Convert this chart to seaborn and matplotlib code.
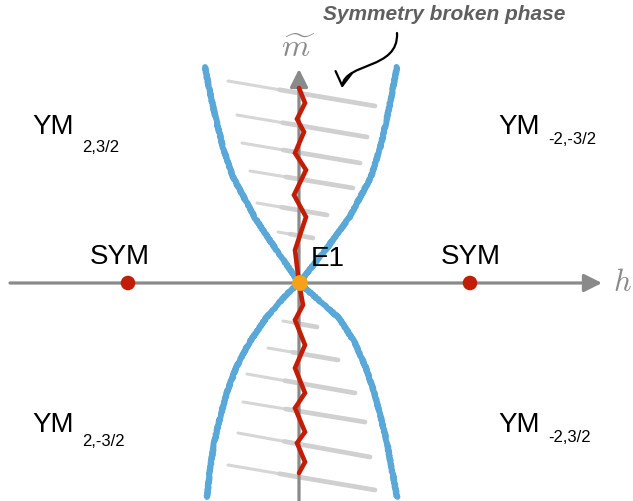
import matplotlib
matplotlib.use("Agg")
import matplotlib.pyplot as plt
from matplotlib.path import Path
from matplotlib.patches import FancyArrowPatch
import pandas as pd
import seaborn as sns

sns.set_theme(style="white")
plt.rcParams["font.family"] = ["Liberation Sans", "DejaVu Sans"]
plt.rcParams["mathtext.fontset"] = "cm"
plt.rcParams["text.color"] = "black"

# phase boundary, upper branch (m > 0): h values on left / right side
upper_m = [0, 15, 35, 65, 106, 135, 160, 185, 216]
upper_left_h = [0, -10, -24, -44, -66, -76, -82, -88, -94]
upper_right_h = [0, 12, 28, 50, 72, 81, 87, 92, 98]

# lower branch (m < 0)
lower_m = [0, -12, -35, -60, -85, -109, -135, -160, -187, -214]
lower_left_h = [0, -13, -33, -50, -63, -72, -79, -85, -89, -92]
lower_right_h = [0, 14, 40, 56, 67, 75, 82, 88, 93, 98]

# first order line along the m axis (zigzag)
zig_m = [195, 180, 164, 151, 130, 113, 88, 66, 33, 0,
         -22, -37, -62, -85, -110, -125, -149, -160, -179, -190]
zig_h = [0, 6, -2, 5, -4, 7, -5, 7, -4, 0,
         4, -4, 6, -4, 6, -4, 6, -2, 6, 0]

# hatching of the symmetry broken phase (start / end of each stroke)
hatch_h0 = [-71, -62, -57, -49, -42, -21, -16, -31, -52, -56, -61, -71]
hatch_m0 = [202, 168, 140, 112, 80, 51, -38, -65, -91, -119, -150, -182]
hatch_h1 = [76, 68, 61, 54, 28, 14, 18, 39, 56, 66, 71, 76]
hatch_m1 = [177, 146, 120, 95, 68, 45, -44, -77, -110, -139, -174, -207]

# special points
sym_h = [-171, 171]
sym_m = [0, 0]
e1_h = [1]
e1_m = [0]

# region labels
region_names = ["YM", "YM", "YM", "YM"]
region_subs = ["2,3/2", "-2,-3/2", "2,-3/2", "-2,3/2"]
region_h = [-267, 199, -267, 199]
region_m = [156, 156, -142, -142]
sub_m = [136, 144, -159, -155]

blue = "#5aa8d7"
grey = "#8a8a8a"
red = "#c21d06"
orange = "#f7a11a"

fig = plt.figure(figsize=(6.33, 5.01), dpi=100)
ax = fig.add_axes([0, 0, 1, 1])
ax.set_xlim(-299, 334)
ax.set_ylim(-218, 283)
ax.axis("off")

# hatch strokes: thin full stroke plus a wider right part for a tapered look
strokes = pd.DataFrame({
    "stroke": list(range(len(hatch_h0))) * 2,
    "h": hatch_h0 + hatch_h1,
    "m": hatch_m0 + hatch_m1,
})
sns.lineplot(data=strokes, x="h", y="m", units="stroke", estimator=None,
             sort=False, color="#d6d6d6", lw=2.2, solid_capstyle="round",
             ax=ax, zorder=1, legend=False)
mid = strokes.copy()
n = len(hatch_h0)
mid.loc[:n - 1, "h"] = [a + 0.35 * (b - a) for a, b in zip(hatch_h0, hatch_h1)]
mid.loc[:n - 1, "m"] = [a + 0.35 * (b - a) for a, b in zip(hatch_m0, hatch_m1)]
sns.lineplot(data=mid, x="h", y="m", units="stroke", estimator=None,
             sort=False, color="#d0d0d0", lw=3.4, solid_capstyle="round",
             ax=ax, zorder=1, legend=False)

# axes with arrows
arrow_kw = dict(arrowstyle="-|>,head_length=0.6,head_width=0.3",
                mutation_scale=18, color=grey, lw=2.3, shrinkA=0, shrinkB=0)
ax.annotate("", xy=(303, 0), xytext=(-289, 0), arrowprops=arrow_kw, zorder=2)
ax.annotate("", xy=(0, 214), xytext=(0, -218), arrowprops=arrow_kw, zorder=2)
ax.text(323, 0, r"$h$", fontsize=22, color=grey, ha="center", va="center")
ax.text(-1, 234, r"$\widetilde{m}$", fontsize=23, color=grey, ha="center", va="center")

# phase boundaries (chalky look)
for hs, ms in [(upper_left_h, upper_m), (upper_right_h, upper_m),
               (lower_left_h, lower_m), (lower_right_h, lower_m)]:
    sns.lineplot(x=hs, y=ms, sort=False, estimator=None, color=blue, lw=4.2,
                 ax=ax, zorder=3)
    ax.lines[-1].set_sketch_params(0.6, 2, 2)
    sns.lineplot(x=hs, y=ms, sort=False, estimator=None, color=blue, lw=0.8,
                 alpha=0.6, ax=ax, zorder=3)
    ax.lines[-1].set_sketch_params(2.5, 1.5, 4)

# zigzag line
sns.lineplot(x=zig_h, y=zig_m, sort=False, estimator=None, color=red, lw=3.3,
             solid_joinstyle="miter", ax=ax, zorder=4)

# points
sns.scatterplot(x=sym_h, y=sym_m, color=red, s=110, edgecolor="none",
                ax=ax, zorder=5)
sns.scatterplot(x=e1_h, y=e1_m, color=orange, s=130, edgecolor="none",
                ax=ax, zorder=6)

ax.text(-179, 26, "SYM", fontsize=20, ha="center", va="center")
ax.text(172, 26, "SYM", fontsize=20, ha="center", va="center")
ax.text(12, 24, "E1", fontsize=20, ha="left", va="center")

for name, sub, h, m, ms in zip(region_names, region_subs, region_h, region_m, sub_m):
    ax.text(h, m, name, fontsize=20, ha="left", va="center")
    ax.text(h + 50, ms, sub, fontsize=12, ha="left", va="center")

# annotation
ax.text(24, 269, "Symmetry broken phase", fontsize=15, color="#5f5f5f",
        style="italic", weight="bold", ha="left", va="center")
curve = Path([(98, 250), (100, 213), (46, 221), (43, 195)],
             [Path.MOVETO, Path.CURVE4, Path.CURVE4, Path.CURVE4])
ax.add_patch(FancyArrowPatch(path=curve, arrowstyle="->,head_length=0.5,head_width=0.3",
                             mutation_scale=20, color="black", lw=1.6, zorder=7))

fig.savefig("out.png", dpi=100)
